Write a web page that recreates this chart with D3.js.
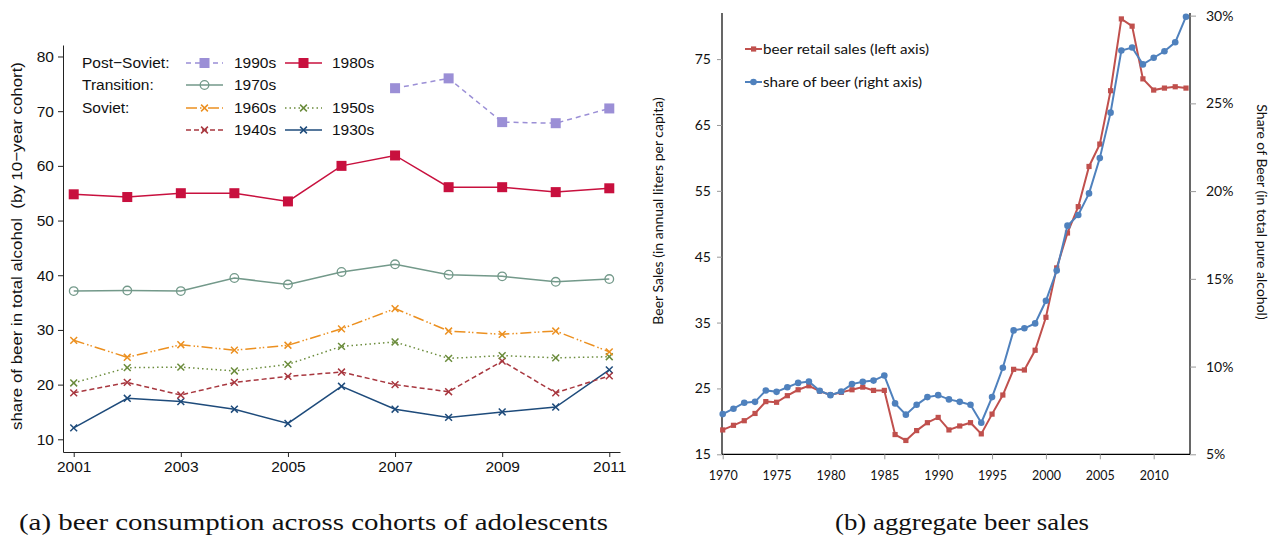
<!DOCTYPE html>
<html><head><meta charset="utf-8">
<script src="https://cdn.jsdelivr.net/npm/d3@7"></script>
<style>
body{margin:0;background:#fff}
svg{display:block}
</style>
</head><body>
<svg id="c" width="1281" height="546"></svg>
<script>
// ---- Panel (a): share of beer by 10-year birth cohort, survey waves 2001-2011
const surveyYears = [2001, 2002, 2003, 2004, 2005, 2006, 2007, 2008, 2009, 2010, 2011];
const cohort1990s = [null, null, null, null, null, null, 74.2, 76.0, 68.0, 67.8, 70.5];
const cohort1980s = [54.8, 54.3, 55.0, 55.0, 53.5, 60.0, 61.9, 56.1, 56.1, 55.2, 55.9];
const cohort1970s = [37.1, 37.2, 37.1, 39.5, 38.3, 40.6, 42.0, 40.1, 39.8, 38.8, 39.3];
const cohort1960s = [28.1, 25.0, 27.3, 26.3, 27.2, 30.2, 33.9, 29.8, 29.2, 29.8, 26.0];
const cohort1950s = [20.3, 23.1, 23.2, 22.5, 23.7, 27.0, 27.8, 24.8, 25.3, 24.9, 25.1];
const cohort1940s = [18.5, 20.4, 18.1, 20.4, 21.5, 22.3, 20.0, 18.7, 24.3, 18.5, 21.6];
const cohort1930s = [12.1, 17.5, 16.9, 15.5, 12.9, 19.7, 15.5, 14.0, 15.0, 15.9, 22.7];
const cohortTicksY = [10, 20, 30, 40, 50, 60, 70, 80];
const cohortTicksX = [2001, 2003, 2005, 2007, 2009, 2011];

// ---- Panel (b): aggregate beer sales and beer share, 1970-2013
const salesYears = [1970,1971,1972,1973,1974,1975,1976,1977,1978,1979,1980,1981,1982,1983,1984,1985,
  1986,1987,1988,1989,1990,1991,1992,1993,1994,1995,1996,1997,1998,1999,2000,2001,2002,2003,2004,
  2005,2006,2007,2008,2009,2010,2011,2012,2013];
const retailSales = [18.7,19.4,20.1,21.2,23.0,22.9,23.9,24.8,25.4,24.6,24.0,24.4,24.8,25.2,24.7,24.7,
  18.0,17.1,18.6,19.8,20.6,18.7,19.3,19.8,18.1,21.1,24.0,27.9,27.8,30.8,35.8,43.3,48.6,52.6,58.7,
  62.1,70.2,81.1,80.0,72.0,70.3,70.6,70.8,70.6];
const beerShare = [7.29,7.60,7.94,7.99,8.64,8.56,8.82,9.07,9.15,8.62,8.37,8.58,9.00,9.13,9.20,9.49,
  7.90,7.26,7.82,8.26,8.37,8.13,7.99,7.82,6.80,8.26,9.93,12.06,12.18,12.46,13.75,15.47,18.03,18.64,19.87,
  21.88,24.47,28.01,28.18,27.22,27.60,27.97,28.48,29.94];
const salesTicks = [15, 25, 35, 45, 55, 65, 75];
const shareTicks = [5, 10, 15, 20, 25, 30];
const yearTicks = [1970, 1975, 1980, 1985, 1990, 1995, 2000, 2005, 2010];

const svg = d3.select("#c");

// ================= Panel (a) =================
const fa = "'Liberation Sans', Arial, Helvetica, sans-serif";
const xA = d3.scaleLinear().domain([2000.8, 2011.2]).range([63, 620]);
const yA = d3.scaleLinear().domain([7.68, 82.1]).range([452, 45]);

const gA = svg.append("g");

const axL = gA.append("g").attr("transform", "translate(63,0)")
  .call(d3.axisLeft(yA).tickValues(cohortTicksY).tickSizeInner(5).tickSizeOuter(0).tickPadding(4));
axL.selectAll("text").style("font", "15.5px " + fa).attr("fill", "#111");
axL.selectAll("line,path").attr("stroke", "#222");

const axB = gA.append("g").attr("transform", "translate(0,452)")
  .call(d3.axisBottom(xA).tickValues(cohortTicksX).tickFormat(d3.format("d")).tickSizeInner(5).tickSizeOuter(0).tickPadding(4));
axB.selectAll("text").style("font", "15.5px " + fa).attr("fill", "#111");
axB.selectAll("line,path").attr("stroke", "#222");

gA.append("text")
  .attr("transform", "translate(22,246) rotate(-90)")
  .attr("text-anchor", "middle")
  .style("font", "15.5px " + fa).attr("fill", "#111")
  .attr("xml:space", "preserve")
  .attr("textLength", 368).attr("lengthAdjust", "spacingAndGlyphs")
  .text("share of beer in total alcohol  (by 10\u2212year cohort)");

const cohorts = [
  {name: "1990s", values: cohort1990s, color: "#9b8fd6", dash: "5,4", marker: "square"},
  {name: "1980s", values: cohort1980s, color: "#c8103e", dash: null, marker: "square"},
  {name: "1970s", values: cohort1970s, color: "#73998a", dash: null, marker: "circle"},
  {name: "1960s", values: cohort1960s, color: "#ec9020", dash: "11,3,1.5,2,1.5,3", marker: "x"},
  {name: "1950s", values: cohort1950s, color: "#6b8c3c", dash: "1.5,3", marker: "x"},
  {name: "1940s", values: cohort1940s, color: "#a8373f", dash: "5,3", marker: "x"},
  {name: "1930s", values: cohort1930s, color: "#1e4b7b", dash: null, marker: "x"}
];

function drawMarker(g, kind, x, y, color) {
  if (kind === "square") {
    g.append("rect").attr("x", x - 5).attr("y", y - 5).attr("width", 10).attr("height", 10).attr("fill", color);
  } else if (kind === "circle") {
    g.append("circle").attr("cx", x).attr("cy", y).attr("r", 4.3)
      .attr("fill", "none").attr("stroke", color).attr("stroke-width", 1.3);
  } else {
    const s = 3.4;
    g.append("path").attr("d", `M${x - s},${y - s}L${x + s},${y + s}M${x - s},${y + s}L${x + s},${y - s}`)
      .attr("stroke", color).attr("stroke-width", 1.5).attr("fill", "none");
  }
}

const lineA = d3.line()
  .defined(d => d.v != null)
  .x(d => xA(d.year)).y(d => yA(d.v));

// draw from the back (oldest cohort) to the front
cohorts.slice().reverse().forEach(c => {
  const pts = surveyYears.map((year, i) => ({year, v: c.values[i]}));
  gA.append("path").datum(pts)
    .attr("d", lineA).attr("fill", "none")
    .attr("stroke", c.color).attr("stroke-width", 1.5)
    .attr("stroke-dasharray", c.dash);
  const mg = gA.append("g");
  pts.filter(p => p.v != null).forEach(p => drawMarker(mg, c.marker, xA(p.year), yA(p.v), c.color));
});

// legend
const legRows = [
  {label: "Post\u2212Soviet:", items: ["1990s", "1980s"], y: 63},
  {label: "Transition:", items: ["1970s"], y: 85},
  {label: "Soviet:", items: ["1960s", "1950s"], y: 108},
  {label: "", items: ["1940s", "1930s"], y: 130}
];
const legCols = [{x0: 186, x1: 223, tx: 234}, {x0: 285, x1: 322, tx: 332}];
const leg = gA.append("g");
legRows.forEach(r => {
  if (r.label) leg.append("text").attr("x", 82).attr("y", r.y).attr("dy", "0.35em")
    .style("font", "15.5px " + fa).attr("fill", "#111").text(r.label);
  r.items.forEach((name, j) => {
    const c = cohorts.find(k => k.name === name);
    const col = legCols[j];
    leg.append("line").attr("x1", col.x0).attr("x2", col.x1).attr("y1", r.y).attr("y2", r.y)
      .attr("stroke", c.color).attr("stroke-width", 1.5).attr("stroke-dasharray", c.dash);
    drawMarker(leg, c.marker, (col.x0 + col.x1) / 2, r.y, c.color);
    leg.append("text").attr("x", col.tx).attr("y", r.y).attr("dy", "0.35em")
      .style("font", "15.5px " + fa).attr("fill", "#111").text(name);
  });
});

// ================= Panel (b) =================
const fb = "Lato, 'Open Sans', sans-serif";
const xB = d3.scaleLinear().domain([1970, 2013]).range([722.7, 1186]);
const yL = d3.scaleLinear().domain([15, 82]).range([454.3, 13]);
const yR = d3.scaleLinear().domain([5, 30.15]).range([454.3, 13]);
const gB = svg.append("g");

// axis frame
gB.append("line").attr("x1", 722).attr("x2", 722).attr("y1", 13).attr("y2", 454.3).attr("stroke", "#000").attr("stroke-width", 1.2);
gB.append("line").attr("x1", 1190).attr("x2", 1190).attr("y1", 13).attr("y2", 454.3).attr("stroke", "#000").attr("stroke-width", 1.2);
gB.append("line").attr("x1", 722).attr("x2", 1190).attr("y1", 454.3).attr("y2", 454.3).attr("stroke", "#000").attr("stroke-width", 1.2);

const axBL = gB.append("g").attr("transform", "translate(722,0)")
  .call(d3.axisLeft(yL).tickValues(salesTicks).tickSizeInner(5).tickSizeOuter(0).tickPadding(6));
axBL.select(".domain").remove();
axBL.selectAll("line").attr("stroke", "#999");
axBL.selectAll("text").style("font", "14px " + fb).attr("fill", "#111");

const axBR = gB.append("g").attr("transform", "translate(1190,0)")
  .call(d3.axisRight(yR).tickValues(shareTicks).tickFormat(d => d + "%").tickSizeInner(6).tickSizeOuter(0).tickPadding(10));
axBR.select(".domain").remove();
axBR.selectAll("line").attr("stroke", "#999");
axBR.selectAll("text").style("font", "14px " + fb).attr("fill", "#111");

const axBB = gB.append("g").attr("transform", "translate(0,454.3)")
  .call(d3.axisBottom(xB).tickValues(yearTicks).tickFormat(d3.format("d")).tickSizeInner(5).tickSizeOuter(0).tickPadding(11));
axBB.select(".domain").remove();
axBB.selectAll("line").attr("stroke", "#999");
axBB.selectAll("text").style("font", "13px " + fb).attr("fill", "#111")
  .attr("textLength", 29).attr("lengthAdjust", "spacingAndGlyphs");

gB.append("text")
  .attr("transform", "translate(663,211) rotate(-90)")
  .attr("text-anchor", "middle")
  .style("font", "14px " + fb).attr("fill", "#111")
  .text("Beer Sales (in annual liters per capita)");
gB.append("text")
  .attr("transform", "translate(1257,212) rotate(90)")
  .attr("text-anchor", "middle")
  .style("font", "14px " + fb).attr("fill", "#111")
  .text("Share of Beer (in total pure alcohol)");

const red = "#c0504d", blue = "#4f81bd";
const salesPts = salesYears.map((year, i) => ({year, v: retailSales[i]}));
const sharePts = salesYears.map((year, i) => ({year, v: beerShare[i]}));

gB.append("path").datum(salesPts)
  .attr("d", d3.line().x(d => xB(d.year)).y(d => yL(d.v)))
  .attr("fill", "none").attr("stroke", red).attr("stroke-width", 2);
gB.append("g").selectAll("rect").data(salesPts).join("rect")
  .attr("x", d => xB(d.year) - 2.6).attr("y", d => yL(d.v) - 2.6)
  .attr("width", 5.2).attr("height", 5.2).attr("fill", red);

gB.append("path").datum(sharePts)
  .attr("d", d3.line().x(d => xB(d.year)).y(d => yR(d.v)))
  .attr("fill", "none").attr("stroke", blue).attr("stroke-width", 2);
gB.append("g").selectAll("circle").data(sharePts).join("circle")
  .attr("cx", d => xB(d.year)).attr("cy", d => yR(d.v)).attr("r", 3.3).attr("fill", blue);

// legend
const legB = [
  {label: "beer retail sales (left axis)", color: red, marker: "square", y: 49, len: 166},
  {label: "share of beer (right axis)", color: blue, marker: "circle", y: 82, len: 159}
];
legB.forEach(l => {
  gB.append("line").attr("x1", 745).attr("x2", 762).attr("y1", l.y).attr("y2", l.y)
    .attr("stroke", l.color).attr("stroke-width", 2);
  if (l.marker === "square")
    gB.append("rect").attr("x", 751).attr("y", l.y - 2.6).attr("width", 5.2).attr("height", 5.2).attr("fill", l.color);
  else
    gB.append("circle").attr("cx", 753.5).attr("cy", l.y).attr("r", 3.3).attr("fill", l.color);
  gB.append("text").attr("x", 763).attr("y", l.y).attr("dy", "0.35em")
    .style("font", "14px " + fb).attr("fill", "#111")
    .attr("textLength", l.len).attr("lengthAdjust", "spacingAndGlyphs")
    .text(l.label);
});

// ================= Captions =================
const fc = "'Liberation Serif', 'DejaVu Serif', serif";
svg.append("text").attr("x", 19).attr("y", 530)
  .style("font", "24px " + fc).attr("fill", "#111")
  .attr("textLength", 589).attr("lengthAdjust", "spacingAndGlyphs")
  .text("(a) beer consumption across cohorts of adolescents");
svg.append("text").attr("x", 835).attr("y", 530)
  .style("font", "24px " + fc).attr("fill", "#111")
  .attr("textLength", 254).attr("lengthAdjust", "spacingAndGlyphs")
  .text("(b) aggregate beer sales");
</script>
</body></html>
